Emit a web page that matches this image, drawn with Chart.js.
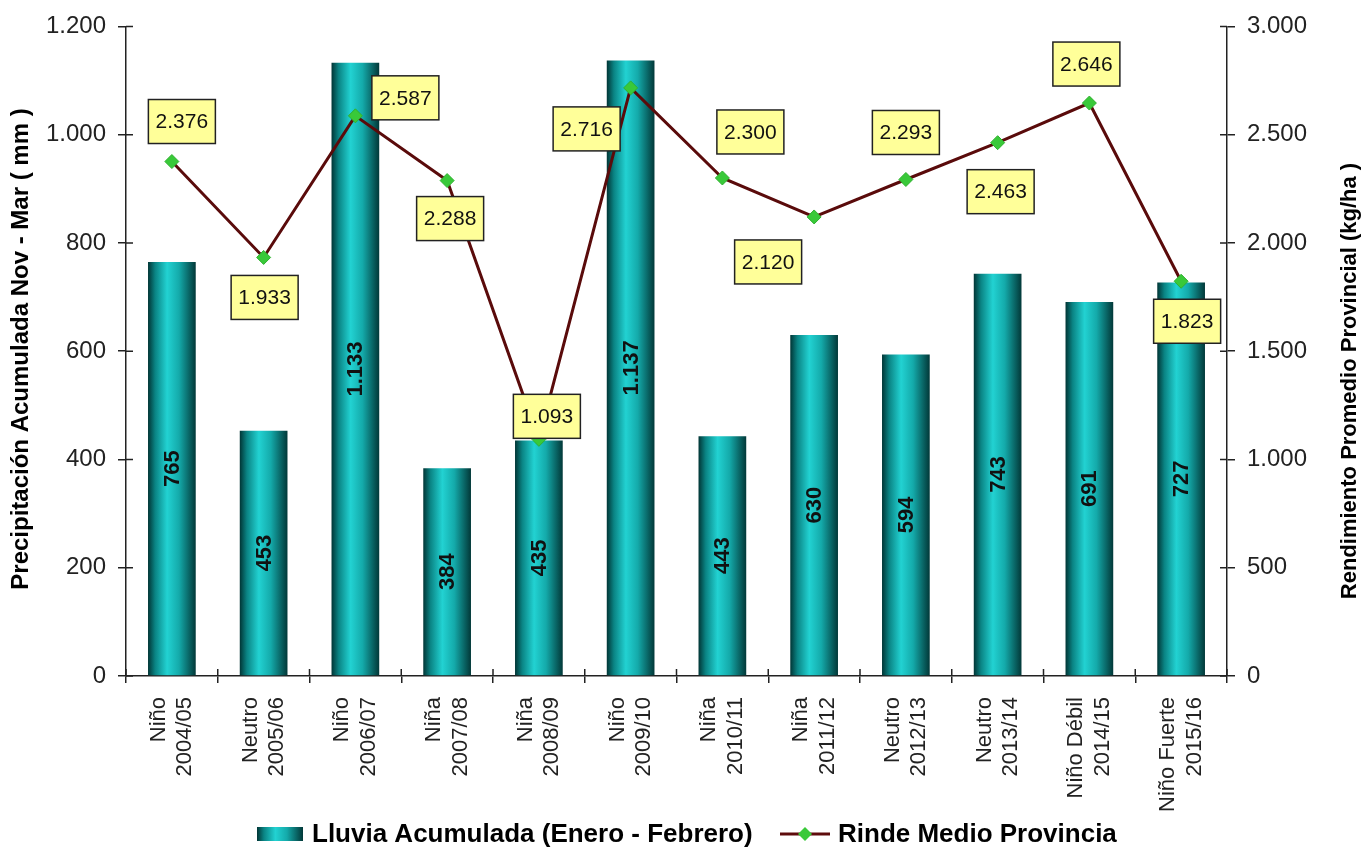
<!DOCTYPE html>
<html>
<head>
<meta charset="utf-8">
<script src="https://cdn.jsdelivr.net/npm/chart.js@4.4.1/dist/chart.umd.min.js"></script>
<style>
  html, body { margin: 0; padding: 0; background: #fff; }
  canvas { display: block; }
</style>
</head>
<body>
<canvas id="chart" width="1363" height="856"></canvas>
<script>
/* ─── DATA ─────────────────────────────────────────── */
const categories = [
  ['Niño', '2004/05'], ['Neutro', '2005/06'], ['Niño', '2006/07'], ['Niña', '2007/08'],
  ['Niña', '2008/09'], ['Niño', '2009/10'], ['Niña', '2010/11'], ['Niña', '2011/12'],
  ['Neutro', '2012/13'], ['Neutro', '2013/14'], ['Niño Débil', '2014/15'], ['Niño Fuerte', '2015/16']
];
const lluvia = [765, 453, 1133, 384, 435, 1137, 443, 630, 594, 743, 691, 727];
const rinde  = [2376, 1933, 2587, 2288, 1093, 2716, 2300, 2120, 2293, 2463, 2646, 1823];
const leftTicks  = [0, 200, 400, 600, 800, 1000, 1200];
const rightTicks = [0, 500, 1000, 1500, 2000, 2500, 3000];

const barName  = 'Lluvia Acumulada (Enero - Febrero)';
const lineName = 'Rinde Medio Provincia';
const leftTitle  = 'Precipitación Acumulada Nov - Mar ( mm )';
const rightTitle = 'Rendimiento Promedio Provincial (kg/ha )';

// where each yellow value box sits relative to its point (px)
const boxOffsets = [
  [10, -40], [1, 40], [50, -18], [3, 38], [8, -23], [-44, 41],
  [28, -46], [-46, 45], [0, -47], [3, 49], [-3, -39], [6, 40]
];

const FONT = '"Liberation Sans", Arial, sans-serif';
const BAR_PCT = 0.52;

function fmt(v) {
  return String(v).replace(/\B(?=(\d{3})+(?!\d))/g, '.');
}

function barGradient(ctx, x0, x1) {
  const g = ctx.createLinearGradient(x0, 0, x1, 0);
  g.addColorStop(0,    '#013535');
  g.addColorStop(0.15, '#0a8484');
  g.addColorStop(0.40, '#22d2d2');
  g.addColorStop(0.65, '#14aaaa');
  g.addColorStop(1,    '#023838');
  return g;
}

/* ─── DECORATIONS: labels, boxes, titles, legend ──── */
const decor = {
  id: 'decor',
  afterDatasetsDraw(chart) {
    const ctx = chart.ctx;
    chart.getDatasetMeta(0).data.forEach((bar, i) => {
      const mid = (bar.y + bar.base) / 2;
      ctx.save();
      ctx.translate(bar.x, mid);
      ctx.rotate(-Math.PI / 2);
      ctx.font = 'bold 22px ' + FONT;
      ctx.fillStyle = '#111';
      ctx.textAlign = 'center';
      ctx.textBaseline = 'middle';
      ctx.fillText(fmt(lluvia[i]), 0, 1);
      ctx.restore();
    });
  },
  afterDraw(chart) {
    const ctx = chart.ctx;
    const area = chart.chartArea;
    const yl = chart.scales.y, yr = chart.scales.y1;

    // inner half of the cross ticks
    ctx.save();
    ctx.strokeStyle = '#222';
    ctx.lineWidth = 1.5;
    ctx.beginPath();
    leftTicks.forEach(v => { const y = yl.getPixelForValue(v); ctx.moveTo(area.left, y); ctx.lineTo(area.left + 7, y); });
    rightTicks.forEach(v => { const y = yr.getPixelForValue(v); ctx.moveTo(area.right, y); ctx.lineTo(area.right - 7, y); });
    const step = (area.right - area.left) / categories.length;
    for (let i = 0; i <= categories.length; i++) {
      const x = area.left + i * step;
      ctx.moveTo(x, area.bottom); ctx.lineTo(x, area.bottom - 7);
    }
    ctx.stroke();
    ctx.restore();

    // yellow value boxes
    chart.getDatasetMeta(1).data.forEach((pt, i) => {
      const cx = pt.x + boxOffsets[i][0], cy = pt.y + boxOffsets[i][1];
      const w = 67, h = 44;
      ctx.save();
      ctx.fillStyle = '#ffff99';
      ctx.strokeStyle = '#222';
      ctx.lineWidth = 1.5;
      ctx.fillRect(cx - w / 2, cy - h / 2, w, h);
      ctx.strokeRect(cx - w / 2, cy - h / 2, w, h);
      ctx.font = '21px ' + FONT;
      ctx.fillStyle = '#111';
      ctx.textAlign = 'center';
      ctx.textBaseline = 'middle';
      ctx.fillText(fmt(rinde[i]), cx, cy + 1);
      ctx.restore();
    });

    // axis titles (both read bottom to top)
    ctx.save();
    ctx.font = 'bold 24px ' + FONT;
    ctx.fillStyle = '#000';
    ctx.textAlign = 'center';
    ctx.textBaseline = 'middle';
    ctx.translate(21, 349);
    ctx.rotate(-Math.PI / 2);
    ctx.fillText(leftTitle, 0, 0);
    ctx.restore();
    ctx.save();
    ctx.font = 'bold 22px ' + FONT;
    ctx.fillStyle = '#000';
    ctx.textAlign = 'center';
    ctx.textBaseline = 'middle';
    ctx.translate(1350, 381);
    ctx.rotate(-Math.PI / 2);
    ctx.fillText(rightTitle, 0, 0);
    ctx.restore();

    // legend
    const ly = 834;
    ctx.save();
    ctx.fillStyle = barGradient(ctx, 257, 303);
    ctx.fillRect(257, ly - 7, 46, 14);
    ctx.font = 'bold 26px ' + FONT;
    ctx.fillStyle = '#000';
    ctx.textBaseline = 'middle';
    ctx.fillText(barName, 312, ly + 1);
    ctx.strokeStyle = '#5e0c0c';
    ctx.lineWidth = 3;
    ctx.beginPath();
    ctx.moveTo(780, ly); ctx.lineTo(830, ly);
    ctx.stroke();
    ctx.fillStyle = '#39c939';
    ctx.beginPath();
    ctx.moveTo(805, ly - 7); ctx.lineTo(812, ly); ctx.lineTo(805, ly + 7); ctx.lineTo(798, ly);
    ctx.closePath();
    ctx.fill();
    ctx.fillStyle = '#000';
    ctx.fillText(lineName, 838, ly + 1);
    ctx.restore();
  }
};

/* ─── CHART ────────────────────────────────────────── */
const xFont = { family: FONT, size: 22 };
const yFont = { family: FONT, size: 24 };

new Chart(document.getElementById('chart'), {
  type: 'bar',
  data: {
    labels: categories,
    datasets: [
      {
        type: 'bar',
        label: barName,
        data: lluvia,
        yAxisID: 'y',
        order: 1,
        barPercentage: BAR_PCT,
        categoryPercentage: 1,
        backgroundColor: (c) => {
          const chart = c.chart, xs = chart.scales.x;
          if (!xs || c.dataIndex === undefined) return '#16b4b4';
          const cx = xs.getPixelForValue(c.dataIndex);
          const half = (xs.width / categories.length) * BAR_PCT / 2;
          if (!isFinite(cx) || !isFinite(half) || half <= 0) return '#16b4b4';
          return barGradient(chart.ctx, cx - half, cx + half);
        },
        borderWidth: 0
      },
      {
        type: 'line',
        label: lineName,
        data: rinde,
        yAxisID: 'y1',
        order: 0,
        borderColor: '#5a0b0b',
        borderWidth: 3,
        tension: 0,
        pointStyle: 'rectRot',
        pointRadius: 7,
        pointBackgroundColor: '#39c939',
        pointBorderColor: '#2fb02f',
        pointBorderWidth: 1
      }
    ]
  },
  options: {
    responsive: false,
    animation: false,
    layout: { padding: { top: 25, left: 0, right: 0, bottom: 0 } },
    plugins: { legend: { display: false }, tooltip: { enabled: false } },
    scales: {
      x: {
        offset: true,
        grid: { offset: true, drawOnChartArea: false, color: '#222', lineWidth: 1.5, tickLength: 7 },
        border: { color: '#222', width: 1.5 },
        ticks: { color: '#222', font: xFont, minRotation: 90, maxRotation: 90, padding: 14, labelOffset: -13, autoSkip: false },
        afterFit: (s) => { s.height = 180; }
      },
      y: {
        position: 'left',
        min: 0, max: 1200,
        afterBuildTicks: (s) => { s.ticks = leftTicks.map(v => ({ value: v })); },
        grid: { drawOnChartArea: false, color: '#222', lineWidth: 1.5, tickLength: 8 },
        border: { color: '#222', width: 1.5 },
        ticks: { color: '#222', font: yFont, padding: 12, callback: v => fmt(v) },
        afterFit: (s) => { s.width = 126; }
      },
      y1: {
        position: 'right',
        min: 0, max: 3000,
        afterBuildTicks: (s) => { s.ticks = rightTicks.map(v => ({ value: v })); },
        grid: { drawOnChartArea: false, color: '#222', lineWidth: 1.5, tickLength: 8 },
        border: { color: '#222', width: 1.5 },
        ticks: { color: '#222', font: yFont, padding: 12, callback: v => fmt(v) },
        afterFit: (s) => { s.width = 136; }
      }
    }
  },
  plugins: [decor]
});
</script>
</body>
</html>
